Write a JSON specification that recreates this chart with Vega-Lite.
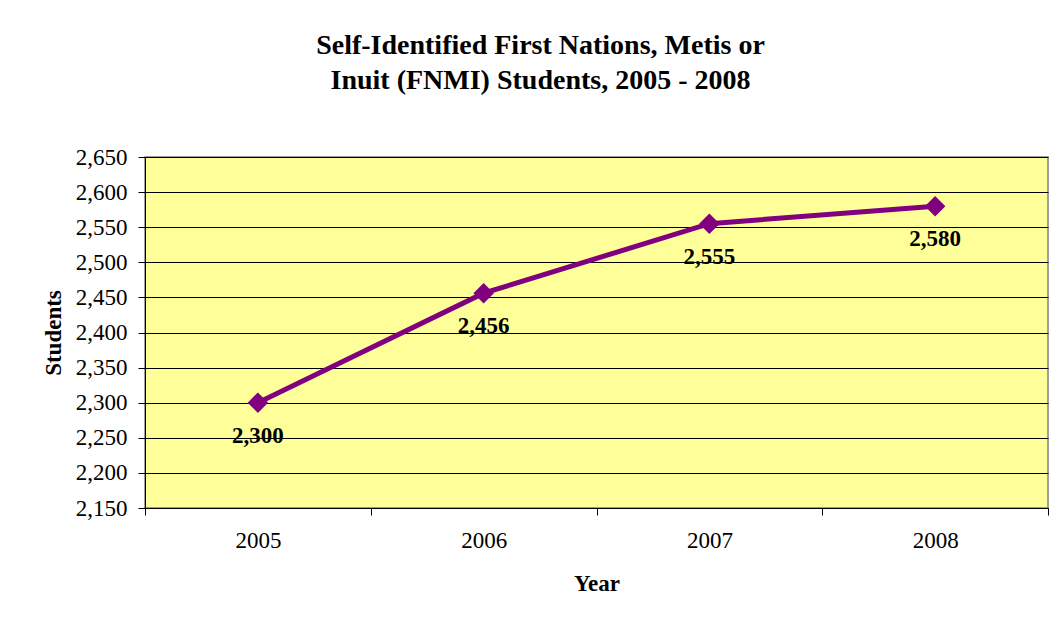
{
  "$schema": "https://vega.github.io/schema/vega-lite/v6.json",
  "autosize": "none",
  "padding": {"left": 145, "top": 157, "right": 10, "bottom": 113},
  "width": 903,
  "height": 351,
  "background": "white",
  "title": {
    "text": ["Self-Identified First Nations, Metis or", "Inuit (FNMI) Students, 2005 - 2008"],
    "font": "Liberation Serif",
    "fontSize": 28,
    "fontWeight": "bold",
    "color": "black",
    "anchor": "middle",
    "dx": -56,
    "offset": 51,
    "lineHeight": 35
  },
  "data": {
    "values": [
      {"Year": "2005", "Students": 2300},
      {"Year": "2006", "Students": 2456},
      {"Year": "2007", "Students": 2555},
      {"Year": "2008", "Students": 2580}
    ]
  },
  "config": {
    "view": {"fill": "#FFFF99", "stroke": "#808080", "strokeWidth": 1.5}
  },
  "encoding": {
    "x": {
      "field": "Year",
      "type": "ordinal",
      "scale": {"paddingInner": 0, "paddingOuter": 0},
      "axis": {
        "title": "Year",
        "labelAngle": 0,
        "labelFont": "Liberation Serif",
        "labelFontSize": 23,
        "labelColor": "black",
        "labelFontWeight": "normal",
        "titleFont": "Liberation Serif",
        "titleFontSize": 23,
        "titleFontWeight": "bold",
        "titleColor": "black",
        "domainColor": "black",
        "tickColor": "black",
        "tickSize": 7,
        "tickBand": "extent",
        "labelPadding": 14,
        "titlePadding": 20,
        "grid": false
      }
    },
    "y": {
      "field": "Students",
      "type": "quantitative",
      "scale": {"domain": [2150, 2650], "nice": false, "zero": false},
      "axis": {
        "title": "Students",
        "values": [2150, 2200, 2250, 2300, 2350, 2400, 2450, 2500, 2550, 2600, 2650],
        "format": ",.0f",
        "labelFont": "Liberation Serif",
        "labelFontSize": 23,
        "labelColor": "black",
        "titleFont": "Liberation Serif",
        "titleFontSize": 23,
        "titleFontWeight": "bold",
        "titleColor": "black",
        "domainColor": "black",
        "tickColor": "black",
        "tickSize": 7,
        "grid": true,
        "gridColor": "black",
        "gridOpacity": 1,
        "gridWidth": 1,
        "labelPadding": 11,
        "titlePadding": 10
      }
    }
  },
  "layer": [
    {
      "mark": {"type": "line", "color": "#800080", "strokeWidth": 5}
    },
    {
      "mark": {"type": "point", "shape": "diamond", "filled": true, "color": "#800080", "size": 420, "opacity": 1}
    },
    {
      "mark": {"type": "text", "font": "Liberation Serif", "fontSize": 23, "fontWeight": "bold", "color": "black", "dy": 33},
      "encoding": {"text": {"field": "Students", "type": "quantitative", "format": ",.0f"}}
    }
  ]
}
